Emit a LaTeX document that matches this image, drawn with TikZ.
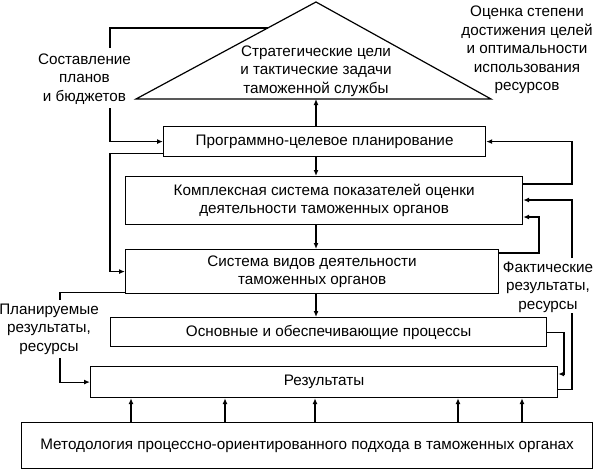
\documentclass[tikz,border=0pt]{standalone}
\usepackage{fontspec}
\setmainfont{Liberation Sans}
\usetikzlibrary{arrows.meta,calc}
\begin{document}
\begin{tikzpicture}[x=1pt,y=-1pt,
  every node/.style={font=\fontsize{15.25}{18.5}\selectfont},
  box/.style={draw,line width=1.2pt,inner sep=0pt,align=center,anchor=north west},
  conn/.style={line width=1.2pt},
  arr/.style={conn,-{Latex[length=6pt,width=5pt]}},
  lbl/.style={align=center,inner sep=0pt}]
\useasboundingbox (0,0) rectangle (594,471);
% triangle
\coordinate (tl) at (136,99);
\coordinate (tp) at (316,2);
\coordinate (tr) at (491,99);
\draw[conn,line join=miter] (tl) -- (tp) -- (tr) -- cycle;
\node[lbl] (tri) at (316,71) {Стратегические цели\\и тактические задачи\\таможенной службы};
% boxes
\node[box,minimum width=322pt,minimum height=30pt] (b1) at (163,126) {Программно-целевое планирование};
\node[box,minimum width=397pt,minimum height=48pt] (b2) at (125,176) {Комплексная система показателей оценки\\деятельности таможенных органов};
\node[box,minimum width=373pt,minimum height=44pt] (b3) at (125,249) {Система видов деятельности\\таможенных органов};
\node[box,minimum width=436pt,minimum height=29pt] (b4) at (110,317) {Основные и обеспечивающие процессы};
\node[box,minimum width=467pt,minimum height=31pt] (b5) at (90,366) {Результаты};
\node[box,minimum width=571pt,minimum height=46pt] (b6) at (21,422) {Методология процессно-ориентированного подхода в таможенных органах};
% labels
\node[lbl] (lplan) at (84.5,79) {Составление\\планов\\и бюджетов};
\node[lbl] (lotsenka) at (527,50) {Оценка степени\\достижения целей\\и оптимальности\\использования\\ресурсов};
\node[lbl] (lfakt) at (548,287) {Фактические\\результаты,\\ресурсы};
\node[lbl] (lplanres) at (49,329) {Планируемые\\результаты,\\ресурсы};
% coordinates
\coordinate (p1) at ($(tl)!0.732!(tp)$);
\coordinate (c1) at (110,48);
\coordinate (c2) at (110,108);
\coordinate (cD) at (110,200);
\coordinate (cE1) at (60,300);
\coordinate (cE2) at (60,358);
\coordinate (cA) at (572,160);
\coordinate (cB1) at (572,313);
\coordinate (cB2) at (572,258);
\coordinate (cC) at (539,235);
\coordinate (cF) at (564,350);
% connectors
\draw[conn] (p1) -| (c1);
\draw[arr] (c2) |- (b1.west);
\draw[arr] ($(b1.south west)+(0,-4)$) -| (cD) |- (b3.west);
\draw[conn] ($(b3.south west)+(0,-2)$) -| (cE1);
\draw[arr] (cE2) |- (b5.west);
\draw[arr] ($(b2.north east)+(0,8)$) -| (cA) |- (b1.east);
\draw[conn] ($(b5.south east)+(0,-9)$) -| (cB1);
\draw[arr] (cB2) |- ($(b2.north east)+(0,24)$);
\draw[arr] ($(b3.north east)+(0,4)$) -| (cC) |- ($(b2.north east)+(0,41)$);
\draw[arr] (b4.east) -| (cF) |- ($(b5.north east)+(0,8)$);
\draw[arr] (b1.north -| tp) -- (tp |- tl);
\draw[arr] (b1.south -| tp) -- (b2.north -| tp);
\draw[arr] (b2.south -| tp) -- (b3.north -| tp);
\draw[arr] (b3.south -| tp) -- (b4.north -| tp);
\foreach \x in {131,225,315,458,522}
  \draw[arr] (b6.north -| \x,0) -- (b5.south -| \x,0);
\end{tikzpicture}
\end{document}
